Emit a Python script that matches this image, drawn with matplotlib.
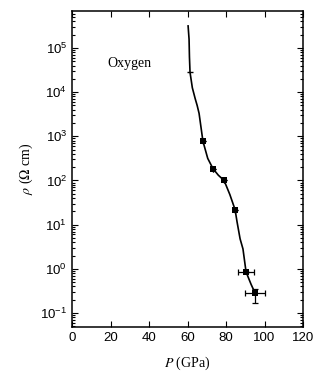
import matplotlib
matplotlib.use("Agg")
import matplotlib.pyplot as plt
from matplotlib.ticker import LogLocator, NullFormatter

plt.rcParams["mathtext.fontset"] = "stix"

# Curve through the measurements (P in GPa, log10 rho)
curve_p = [60.3, 60.8, 61.0, 61.3, 62.5, 64.0, 65.0, 66.0, 68.0, 70.5, 73.2, 76.0, 79.0, 82.0, 84.7, 85.7, 87.3, 88.8, 90.4, 93.0, 95.1]
curve_logrho = [5.50, 5.20, 4.80, 4.45, 4.10, 3.85, 3.70, 3.52, 2.89, 2.50, 2.27, 2.12, 2.00, 1.68, 1.34, 1.07, 0.68, 0.45, -0.07, -0.35, -0.55]

# Marked data points (squares)
pts_p = [68.0, 73.2, 79.0, 84.7, 90.4, 95.1]
pts_logrho = [2.89, 2.27, 2.00, 1.34, -0.07, -0.55]
pts_perr = [0.0, 0.0, 0.0, 0.0, 4.0, 5.0]

# Small tick mark on the curve near the top
tick_p = [61.3]
tick_logrho = [4.45]

x_ticks = [0, 20, 40, 60, 80, 100, 120]

rho_curve = [10 ** v for v in curve_logrho]
rho_pts = [10 ** v for v in pts_logrho]
yerr_lo = [0, 0, 0, 0, 0, rho_pts[-1] - 10 ** (-0.78)]
yerr_hi = [0, 0, 0, 0, 0, 10 ** (-0.45) - rho_pts[-1]]

fig = plt.figure(figsize=(3.2, 3.76), dpi=100)
ax = fig.add_axes([0.225, 0.130, 0.722, 0.841])

ax.plot(curve_p, rho_curve, color="black", lw=1.2)
ax.errorbar(pts_p, rho_pts, xerr=pts_perr, yerr=[yerr_lo, yerr_hi], fmt="none",
            ecolor="black", elinewidth=0.9, capsize=2.5, capthick=0.9)
ax.plot(pts_p, rho_pts, marker="s", ms=3.8, mew=0, color="black", ls="none")
ax.plot(tick_p, [10 ** v for v in tick_logrho], marker="_", ms=5, mew=1.0,
        color="black", ls="none")

ax.set_yscale("log")
ax.set_xlim(0, 120)
ax.set_ylim(10 ** -1.32, 10 ** 5.84)
ax.set_xticks(x_ticks)
ax.set_xticklabels([str(t) for t in x_ticks])
ax.yaxis.set_major_locator(LogLocator(base=10, numticks=20))
ax.yaxis.set_minor_locator(LogLocator(base=10, subs=range(2, 10), numticks=50))
ax.yaxis.set_minor_formatter(NullFormatter())

ax.tick_params(which="both", direction="in", top=True, right=True, width=0.8)
ax.tick_params(which="major", length=4)
ax.tick_params(which="minor", length=2)
ax.tick_params(labelsize=9.5)
for lab in ax.get_xticklabels() + ax.get_yticklabels():
    lab.set_fontfamily("Liberation Sans")
for s in ax.spines.values():
    s.set_linewidth(1.1)

ax.text(0.155, 0.835, "Oxygen", transform=ax.transAxes, fontsize=10,
        family="Liberation Serif", ha="left", va="center")

ax.set_xlabel(r"$P$ (GPa)", fontsize=10, family="Liberation Serif", labelpad=8)
ax.set_ylabel(r"$\rho$ ($\Omega$ cm)", fontsize=10, family="Liberation Serif", labelpad=4)

fig.savefig("out.png", dpi=100)
